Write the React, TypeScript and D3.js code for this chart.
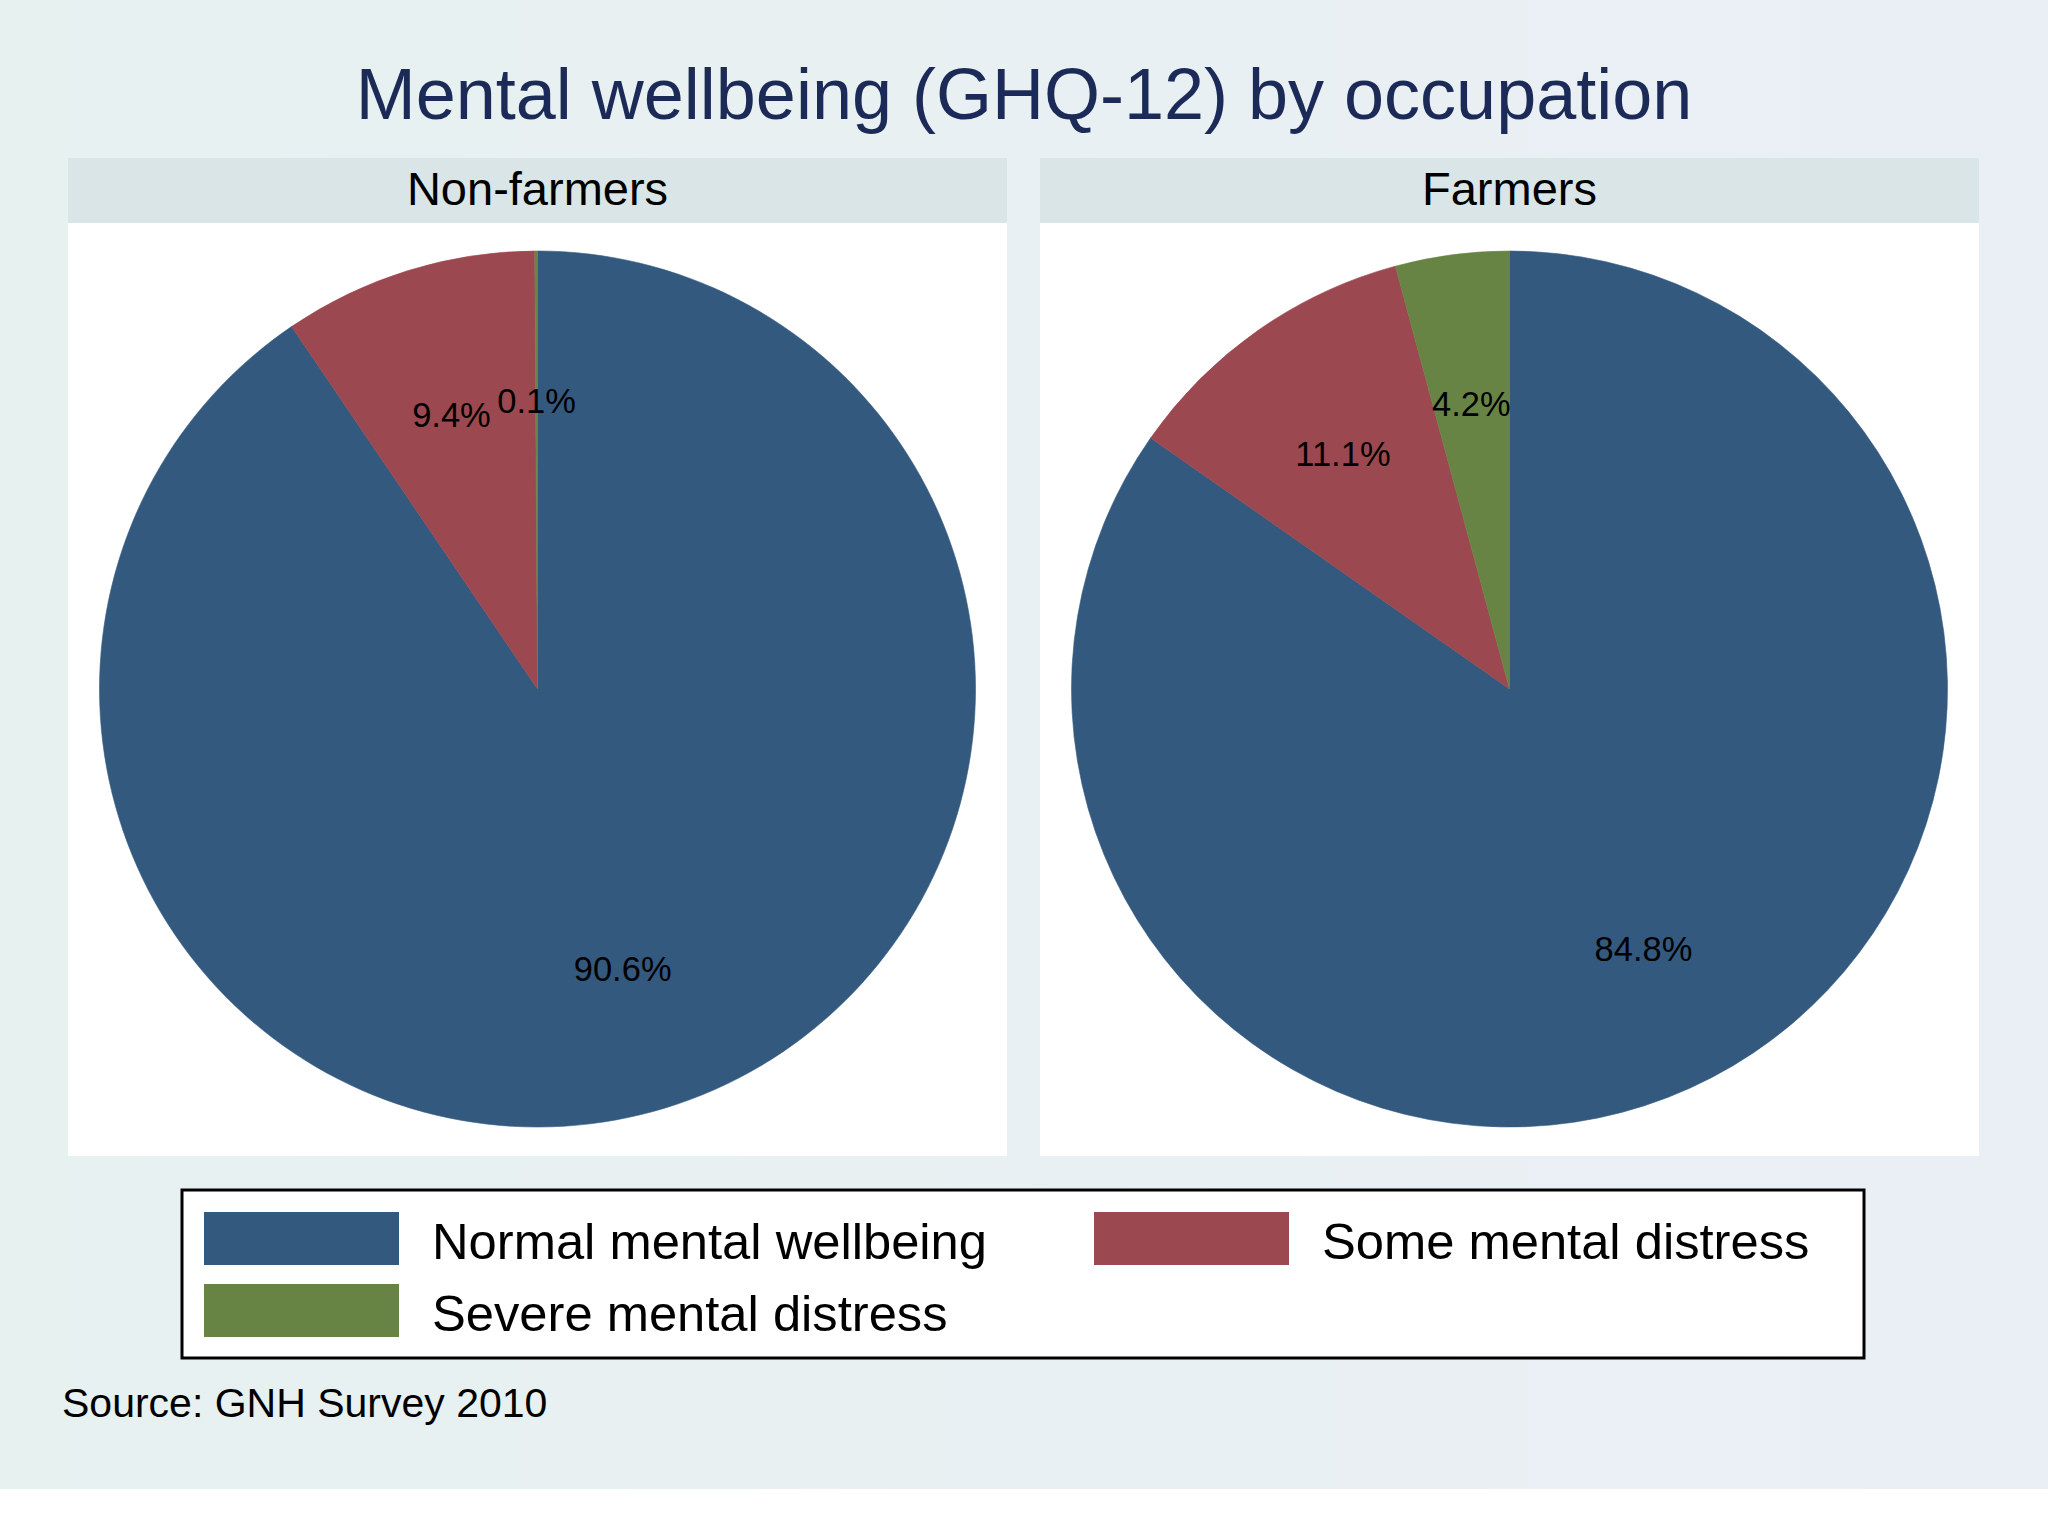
import * as d3 from "d3";

// categories and values
const categories = ["Normal mental wellbeing", "Some mental distress", "Severe mental distress"];
const panels = ["Non-farmers", "Farmers"];
const nonFarmers = [90.6, 9.4, 0.1];
const farmers = [84.8, 11.1, 4.2];
const colors = ["#34597f", "#9c4850", "#688445"];

const W = 2048;
const H = 1536;
const font = "'Liberation Sans', Arial, Helvetica, sans-serif";

const panelX = [68, 1040];
const panelW = 939;
const headerTop = 158;
const headerBottom = 223;
const plotBottom = 1156;
const pieCy = 689;
const radius = 438;

function Pie({ values, cx }: { values: number[]; cx: number }) {
  const pie = d3
    .pie<number>()
    .sort(null)
    .value((d) => d);
  const arcs = pie(values);
  const arc = d3.arc<d3.PieArcDatum<number>>().innerRadius(0).outerRadius(radius);
  const labelArc = d3
    .arc<d3.PieArcDatum<number>>()
    .innerRadius(radius * 0.662)
    .outerRadius(radius * 0.662);

  return (
    <g transform={`translate(${cx},${pieCy})`}>
      {arcs.map((a, i) => (
        <path key={i} d={arc(a) ?? ""} fill={colors[i]} stroke={colors[i]} strokeWidth={0.6} />
      ))}
      {arcs.map((a, i) => {
        const [x, y] = labelArc.centroid(a);
        return (
          <text
            key={"l" + i}
            x={x}
            y={y + 2}
            dy="0.36em"
            textAnchor="middle"
            fontSize={34.5}
            fontFamily={font}
            fill="#000"
          >
            {`${a.data.toFixed(1)}%`}
          </text>
        );
      })}
    </g>
  );
}

export default function App() {
  const series = [nonFarmers, farmers];
  return (
    <svg
      width={W}
      height={H}
      style={{ position: "absolute", left: 0, top: 0, background: "#fff" }}
    >
      <defs>
        <linearGradient id="bg" x1="0" x2="1" y1="0" y2="0">
          <stop offset="0" stopColor="#e7f1f0" />
          <stop offset="1" stopColor="#eaeff5" />
        </linearGradient>
      </defs>
      <rect x={0} y={0} width={W} height={1489} fill="url(#bg)" />

      <text
        x={W / 2}
        y={119}
        textAnchor="middle"
        fontSize={72}
        fontFamily={font}
        fill="#1b2a56"
      >
        Mental wellbeing (GHQ-12) by occupation
      </text>

      {panels.map((p, i) => (
        <g key={p}>
          <rect
            x={panelX[i]}
            y={headerTop}
            width={panelW}
            height={headerBottom - headerTop}
            fill="#dae5e8"
          />
          <rect
            x={panelX[i]}
            y={headerBottom}
            width={panelW}
            height={plotBottom - headerBottom}
            fill="#ffffff"
          />
          <text
            x={panelX[i] + panelW / 2}
            y={205}
            textAnchor="middle"
            fontSize={47}
            fontFamily={font}
            fill="#000"
          >
            {p}
          </text>
          <Pie values={series[i]} cx={panelX[i] + panelW / 2} />
        </g>
      ))}

      {/* legend */}
      <rect
        x={182}
        y={1190}
        width={1682}
        height={168}
        fill="#fff"
        stroke="#000"
        strokeWidth={3}
      />
      {[
        { i: 0, x: 204, y: 1212 },
        { i: 1, x: 1094, y: 1212 },
        { i: 2, x: 204, y: 1284 },
      ].map(({ i, x, y }) => (
        <g key={categories[i]}>
          <rect x={x} y={y} width={195} height={53} fill={colors[i]} />
          <text
            x={x + 228}
            y={y + 47}
            fontSize={50.7}
            fontFamily={font}
            fill="#000"
          >
            {categories[i]}
          </text>
        </g>
      ))}

      <text x={62} y={1417} fontSize={41} fontFamily={font} fill="#000">
        Source: GNH Survey 2010
      </text>
    </svg>
  );
}
